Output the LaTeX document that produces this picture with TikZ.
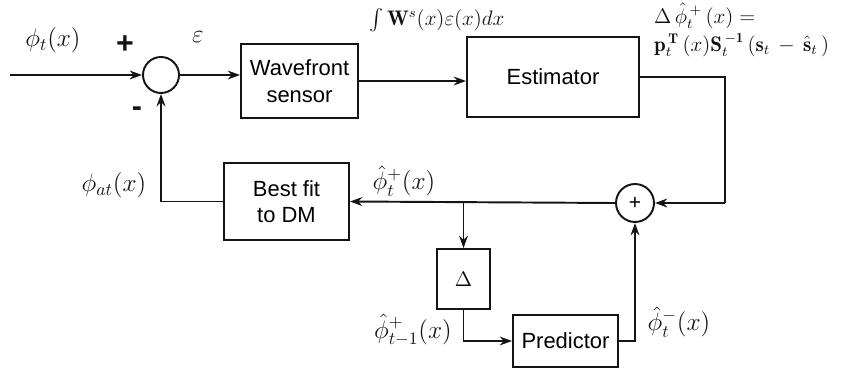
\documentclass[tikz,border=0pt]{standalone}
\usepackage{fontspec}
\setsansfont{Liberation Sans}
\usepackage{amsmath,amssymb}
\usetikzlibrary{arrows.meta,positioning}
\definecolor{inkBlack}{RGB}{20,20,20}
\newcommand{\phiHat}{\hat{\phi}}
\begin{document}
\begin{tikzpicture}[x=0.02cm,y=-0.02cm,line cap=butt,line join=miter,
  blockBox/.style={draw=inkBlack,line width=1.1pt,rectangle,align=center,font=\sffamily\fontsize{12.5}{15}\selectfont,inner sep=2pt},
  sumNode/.style={draw=inkBlack,line width=1.1pt,circle,inner sep=0pt},
  wire/.style={draw=inkBlack,line width=1.1pt},
  arrowWire/.style={wire,-{Stealth[length=7pt,width=5pt]}},
  mathLabel/.style={inkBlack,font=\Large},
  eqLabel/.style={inkBlack,font=\large,inner sep=0.5pt}]
  \useasboundingbox (0,0) rectangle (849,371);
  % blocks
  \node[blockBox,minimum width=2.34cm,minimum height=1.48cm] (WFS) at (299.5,81) {Wavefront\\sensor};
  \node[blockBox,minimum width=3.44cm,minimum height=1.60cm] (Est) at (553,77) {Estimator};
  \node[blockBox,minimum width=2.50cm,minimum height=1.54cm] (Fit) at (286.5,201.5) {Best fit\\to DM};
  \node[blockBox,minimum width=1.06cm,minimum height=1.20cm] (Del) at (463.5,279) {$\Delta$};
  \node[blockBox,minimum width=2.10cm,minimum height=1.04cm] (Pred) at (565.5,341) {Predictor};
  \node[sumNode,minimum size=0.72cm] (SumA) at (161,75) {};
  \node[sumNode,minimum size=0.76cm,font=\sffamily\large] (SumB) at (635,203) {+};
  \coordinate (In) at (10,75);
  \coordinate (R) at (725,203);
  \coordinate (Br) at (463.5,203);
  % connectors
  \draw[arrowWire] (In) -- (SumA.west);
  \draw[arrowWire] (SumA.east) -- (SumA.east -| WFS.west);
  \draw[arrowWire] (WFS.east) -- (WFS.east -| Est.west);
  \draw[wire] (Est.east) -| (R);
  \draw[arrowWire] (R) -- (SumB.east);
  \draw[arrowWire] (SumB.west) -- (Fit.east);
  \draw[arrowWire] (Br) -- (Del.north);
  \draw[arrowWire] (Del.south) |- (Pred.west);
  \draw[arrowWire] (Pred.east) -| (SumB.south);
  \draw[arrowWire] (Fit.west) -| (SumA.south);
  % labels
  \node[mathLabel] at (53,40) {$\phi_t(x)$};
  \node[inkBlack,font=\sffamily\bfseries\LARGE] at (125,45) {+};
  \node[inkBlack,font=\sffamily\bfseries\LARGE] at (137,112) {-};
  \node[mathLabel] at (198,37) {$\varepsilon$};
  \node[eqLabel] at (437,20) {$\int\mathbf{W}^s(x)\varepsilon(x)dx$};
  \node[eqLabel,anchor=west] at (653,16) {$\Delta\,\phiHat_t^{\,+}\,(x) =$};
  \node[eqLabel,anchor=west] at (653,45) {$\mathbf{p}_t^{\,\mathbf{T}}\,(x)\mathbf{S}_t^{\,-\mathbf{1}}\,(\mathbf{s}_t\,-\,\hat{\mathbf{s}}_t\,)$};
  \node[mathLabel] at (114,185) {$\phi_{at}(x)$};
  \node[mathLabel] at (404,181) {$\phiHat_t^+(x)$};
  \node[mathLabel] at (413,330) {$\phiHat_{t-1}^+(x)$};
  \node[mathLabel] at (679,322) {$\phiHat_t^-(x)$};
\end{tikzpicture}
\end{document}
